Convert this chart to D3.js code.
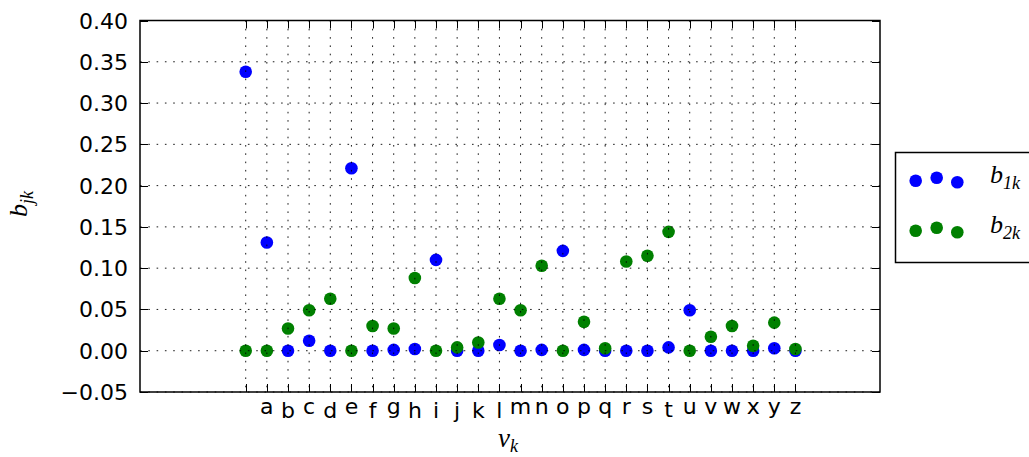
<!DOCTYPE html>
<html>
<head>
<meta charset="utf-8">
<script src="https://cdn.jsdelivr.net/npm/d3@7"></script>
<style>
  html, body { margin: 0; padding: 0; background: #fff; }
  svg { display: block; }
</style>
</head>
<body>
<svg id="chart" width="1029" height="457"></svg>
<script>
// Categories along the x axis (first slot has a blank label)
const categories = [" ", "a", "b", "c", "d", "e", "f", "g", "h", "i", "j", "k", "l", "m",
  "n", "o", "p", "q", "r", "s", "t", "u", "v", "w", "x", "y", "z"];

// b_1k values per category
const b1 = [0.338, 0.131, 0.000, 0.012, 0.000, 0.221, 0.000, 0.001, 0.002, 0.110, 0.000,
  0.000, 0.007, 0.000, 0.001, 0.121, 0.001, 0.000, 0.000, 0.000, 0.004, 0.049, 0.000,
  0.000, 0.000, 0.003, 0.000];

// b_2k values per category
const b2 = [0.000, 0.000, 0.027, 0.049, 0.063, 0.000, 0.030, 0.027, 0.088, 0.000, 0.004,
  0.010, 0.063, 0.049, 0.103, 0.000, 0.035, 0.003, 0.108, 0.115, 0.144, 0.000, 0.017,
  0.030, 0.006, 0.034, 0.002];

// y axis tick values
const yTicks = [-0.05, 0.00, 0.05, 0.10, 0.15, 0.20, 0.25, 0.30, 0.35, 0.40];

const seriesList = [
  { name: "1k", values: b1, color: "#0000ff" },
  { name: "2k", values: b2, color: "#008000" }
];

const svg = d3.select("#chart");
const box = { left: 140, right: 880, top: 20.5, bottom: 392 };

const x = d3.scaleLinear().domain([-5, 30]).range([box.left, box.right]);
const y = d3.scaleLinear().domain([-0.05, 0.40]).range([box.bottom, box.top]);

const tickFont = "DejaVu Sans, sans-serif";
const tickSize = 22;
const mathFont = "'Liberation Serif', 'DejaVu Serif', serif";
const markerR = 6.3;

// points (drawn beneath the grid)
const pts = svg.append("g");
seriesList.forEach(s => {
  pts.append("g").selectAll("circle")
    .data(s.values)
    .join("circle")
    .attr("cx", (d, i) => x(i))
    .attr("cy", d => y(d))
    .attr("r", markerR)
    .attr("fill", s.color);
});

// dotted grid on top of the markers
const grid = svg.append("g")
  .attr("stroke", "#000")
  .attr("stroke-width", 0.9)
  .attr("stroke-dasharray", "1.6,6.7")
  .attr("fill", "none");
grid.selectAll("line.v")
  .data(categories)
  .join("line")
  .attr("class", "v")
  .attr("x1", (d, i) => x(i)).attr("x2", (d, i) => x(i))
  .attr("y1", box.top).attr("y2", box.bottom);
grid.selectAll("line.h")
  .data(yTicks)
  .join("line")
  .attr("class", "h")
  .attr("x1", box.left).attr("x2", box.right)
  .attr("y1", d => y(d)).attr("y2", d => y(d));

// inward ticks on all four sides
const tickLen = 8;
const ticks = svg.append("g").attr("stroke", "#000").attr("stroke-width", 1);
categories.forEach((c, i) => {
  const px = Math.round(x(i)) + 0.5;
  ticks.append("line").attr("x1", px).attr("x2", px).attr("y1", box.bottom).attr("y2", box.bottom - tickLen);
  ticks.append("line").attr("x1", px).attr("x2", px).attr("y1", box.top).attr("y2", box.top + tickLen);
});
yTicks.forEach(v => {
  const py = Math.round(y(v)) + 0.5;
  ticks.append("line").attr("x1", box.left).attr("x2", box.left + tickLen).attr("y1", py).attr("y2", py);
  ticks.append("line").attr("x1", box.right).attr("x2", box.right - tickLen).attr("y1", py).attr("y2", py);
});

// frame
svg.append("rect")
  .attr("x", box.left).attr("y", box.top)
  .attr("width", box.right - box.left).attr("height", box.bottom - box.top)
  .attr("fill", "none").attr("stroke", "#000").attr("stroke-width", 1.5);

// y tick labels, vertically centred on ticks
const fmt = d3.format(".2f");
svg.append("g").selectAll("text")
  .data(yTicks)
  .join("text")
  .attr("x", 128)
  .attr("y", d => y(d) + 8)
  .attr("text-anchor", "end")
  .attr("font-family", tickFont)
  .attr("font-size", tickSize)
  .attr("fill", "#000")
  .text(d => fmt(d));

// x tick labels, top of the ink aligned just under the axis
const ctx = document.createElement("canvas").getContext("2d");
ctx.font = tickSize + "px 'DejaVu Sans'";
const inkTop = 402;
svg.append("g").selectAll("text")
  .data(categories)
  .join("text")
  .attr("x", (d, i) => x(i))
  .attr("y", d => {
    const m = ctx.measureText(d);
    const asc = m.actualBoundingBoxAscent || 0;
    return inkTop + asc;
  })
  .attr("text-anchor", "middle")
  .attr("font-family", tickFont)
  .attr("font-size", tickSize)
  .attr("fill", "#000")
  .text(d => d);

// axis titles with subscripts
function mathLabel(g, base, sub, size, subSize, subDy) {
  const t = g.append("text")
    .attr("font-family", mathFont)
    .attr("font-style", "italic")
    .attr("fill", "#000");
  t.append("tspan").attr("font-size", size).text(base);
  t.append("tspan").attr("font-size", subSize).attr("dy", subDy).text(sub);
  return t;
}

mathLabel(svg.append("g").attr("transform", "translate(508,447)"), "v", "k", 27, 18, 5)
  .attr("text-anchor", "middle");

mathLabel(svg.append("g").attr("transform", "translate(27,204) rotate(-90)"), "b", "jk", 26, 18, 6)
  .attr("text-anchor", "middle");

// legend
const legend = svg.append("g");
legend.append("rect")
  .attr("x", 895.5).attr("y", 152.5)
  .attr("width", 160).attr("height", 110)
  .attr("fill", "#fff").attr("stroke", "#000").attr("stroke-width", 1.5);

const handleX = [915.7, 936.7, 957.3];
const handleOffsets = [0.375, 0.5, 0.3125];
const handleH = 24;
seriesList.forEach((s, k) => {
  const rowMid = 177.7 + k * 50;
  legend.append("g").selectAll("circle")
    .data(handleOffsets)
    .join("circle")
    .attr("cx", (d, i) => handleX[i])
    .attr("cy", d => rowMid + (0.5 - d) * handleH)
    .attr("r", markerR)
    .attr("fill", s.color);
  mathLabel(legend.append("g").attr("transform", `translate(990,${rowMid + 5})`), "b", s.name, 26, 18, 6);
});
</script>
</body>
</html>
